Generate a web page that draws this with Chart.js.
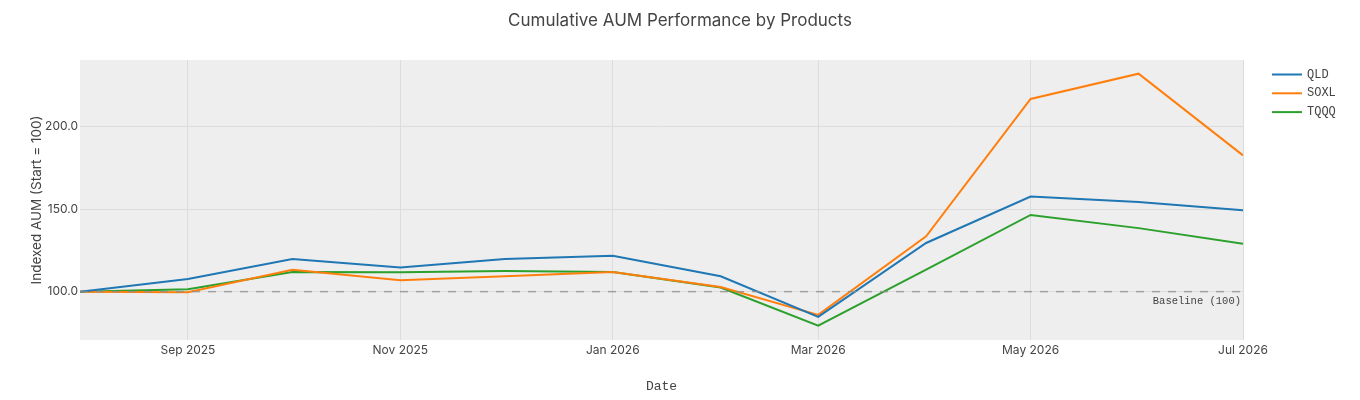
<!DOCTYPE html>
<html>
<head>
<meta charset="utf-8">
<script src="https://cdn.jsdelivr.net/npm/chart.js@4.4.1/dist/chart.umd.min.js"></script>
<style>
  html, body { margin: 0; padding: 0; background: #fff; }
  #wrap { width: 1360px; height: 400px; }
</style>
</head>
<body>
<div id="wrap"><canvas id="aumChart" width="1360" height="400"></canvas></div>
<script>
// monthly snapshots
const months = ["2025-08-01", "2025-09-01", "2025-10-01", "2025-11-01", "2025-12-01", "2026-01-01",
                "2026-02-01", "2026-03-01", "2026-04-01", "2026-05-01", "2026-06-01", "2026-07-01"];
const qld  = [100, 107.7, 119.8, 114.7, 119.8, 121.8, 109.3, 84.7, 129.5, 157.6, 154.4, 149.3];
const soxl = [100, 99.6, 113.3, 106.9, 109.3, 111.9, 102.8, 85.9, 133.5, 216.8, 232.1, 182.6];
const tqqq = [100, 101.4, 111.9, 111.7, 112.5, 111.9, 102.5, 79.4, 113.3, 146.5, 138.5, 129.1];
const baseline = 100;

const xTicks = ["2025-09-01", "2025-11-01", "2026-01-01", "2026-03-01", "2026-05-01", "2026-07-01"];
const yTicks = [100, 150, 200];

const monthNames = ["Jan", "Feb", "Mar", "Apr", "May", "Jun", "Jul", "Aug", "Sep", "Oct", "Nov", "Dec"];
const toMs = s => Date.parse(s + "T00:00:00Z");
const fmtDate = ms => {
  const d = new Date(ms);
  return monthNames[d.getUTCMonth()] + " " + d.getUTCFullYear();
};

const series = [
  { label: "QLD", data: qld, color: "#1f77b4" },
  { label: "SOXL", data: soxl, color: "#ff7f0e" },
  { label: "TQQQ", data: tqqq, color: "#2ca02c" }
];

const textColor = "#444";
const sans = "Inter, 'Noto Sans', sans-serif";
const mono = "'Liberation Mono', 'DejaVu Sans Mono', monospace";

// grey plot background
const plotBg = {
  id: "plotBg",
  beforeDraw(chart) {
    const { ctx, chartArea: a } = chart;
    ctx.save();
    ctx.fillStyle = "#eeeeee";
    ctx.fillRect(a.left, a.top, a.right - a.left, a.bottom - a.top);
    ctx.restore();
  }
};

// legend on the right + baseline label
const extras = {
  id: "extras",
  afterDraw(chart) {
    const { ctx, chartArea: a } = chart;
    const yScale = chart.scales.y;
    ctx.save();
    ctx.font = "10.5px " + mono;
    ctx.fillStyle = textColor;
    ctx.textAlign = "right";
    ctx.textBaseline = "middle";
    ctx.fillText("Baseline (" + baseline + ")", a.right - 2, yScale.getPixelForValue(baseline) + 10);

    ctx.font = "12px " + mono;
    ctx.textAlign = "left";
    series.forEach((s, i) => {
      const y = 74.5 + i * 18.8;
      ctx.strokeStyle = s.color;
      ctx.lineWidth = 2;
      ctx.beginPath();
      ctx.moveTo(a.right + 29, y);
      ctx.lineTo(a.right + 59, y);
      ctx.stroke();
      ctx.fillStyle = textColor;
      ctx.fillText(s.label, a.right + 64, y);
    });
    ctx.restore();
  }
};

const datasets = [{
  label: "Baseline",
  data: [{ x: toMs(months[0]), y: baseline }, { x: toMs(months[months.length - 1]), y: baseline }],
  borderColor: "rgba(140,140,140,0.75)",
  borderWidth: 1.5,
  borderDash: [8, 8],
  pointRadius: 0,
  fill: false
}].concat(series.map(s => ({
  label: s.label,
  data: months.map((m, i) => ({ x: toMs(m), y: s.data[i] })),
  borderColor: s.color,
  backgroundColor: s.color,
  borderWidth: 2,
  pointRadius: 0,
  tension: 0,
  fill: false
})));

new Chart(document.getElementById("aumChart").getContext("2d"), {
  type: "line",
  data: { datasets },
  options: {
    responsive: false,
    animation: false,
    layout: { padding: 0 },
    plugins: {
      legend: { display: false },
      tooltip: { enabled: false },
      title: {
        display: true,
        text: "Cumulative AUM Performance by Products",
        color: textColor,
        font: { family: sans, size: 17, weight: "normal" },
        padding: { top: 11, bottom: 28.6 }
      }
    },
    scales: {
      x: {
        type: "linear",
        min: toMs(months[0]),
        max: toMs(months[months.length - 1]),
        afterBuildTicks: axis => { axis.ticks = xTicks.map(t => ({ value: toMs(t) })); },
        afterFit: axis => { axis.height = 60; },
        ticks: {
          color: textColor,
          font: { family: sans, size: 12 },
          padding: 3,
          maxRotation: 0,
          autoSkip: false,
          callback: v => fmtDate(v)
        },
        grid: { color: "#dcdcdc", lineWidth: 1, drawTicks: false },
        border: { display: false },
        title: {
          display: true,
          text: "Date",
          color: textColor,
          font: { family: mono, size: 13 },
          padding: { top: 0, bottom: 6 }
        }
      },
      y: {
        min: 70.7,
        max: 240.4,
        afterBuildTicks: axis => { axis.ticks = yTicks.map(v => ({ value: v })); },
        afterFit: axis => { axis.width = 80; },
        ticks: {
          color: textColor,
          font: { family: sans, size: 12 },
          padding: 2,
          callback: v => v.toFixed(1)
        },
        grid: { color: "#dcdcdc", lineWidth: 1, drawTicks: false },
        border: { display: false },
        title: {
          display: true,
          text: "Indexed AUM (Start = 100)",
          color: textColor,
          font: { family: sans, size: 13.5 },
          padding: { top: 29, bottom: 0 }
        }
      },
      // empty right-hand axis reserving room for the legend
      legendSpace: {
        position: "right",
        display: true,
        afterFit: axis => { axis.width = 117; },
        ticks: { display: false },
        grid: { display: false, drawTicks: false },
        border: { display: false }
      }
    }
  },
  plugins: [plotBg, extras]
});
</script>
</body>
</html>
